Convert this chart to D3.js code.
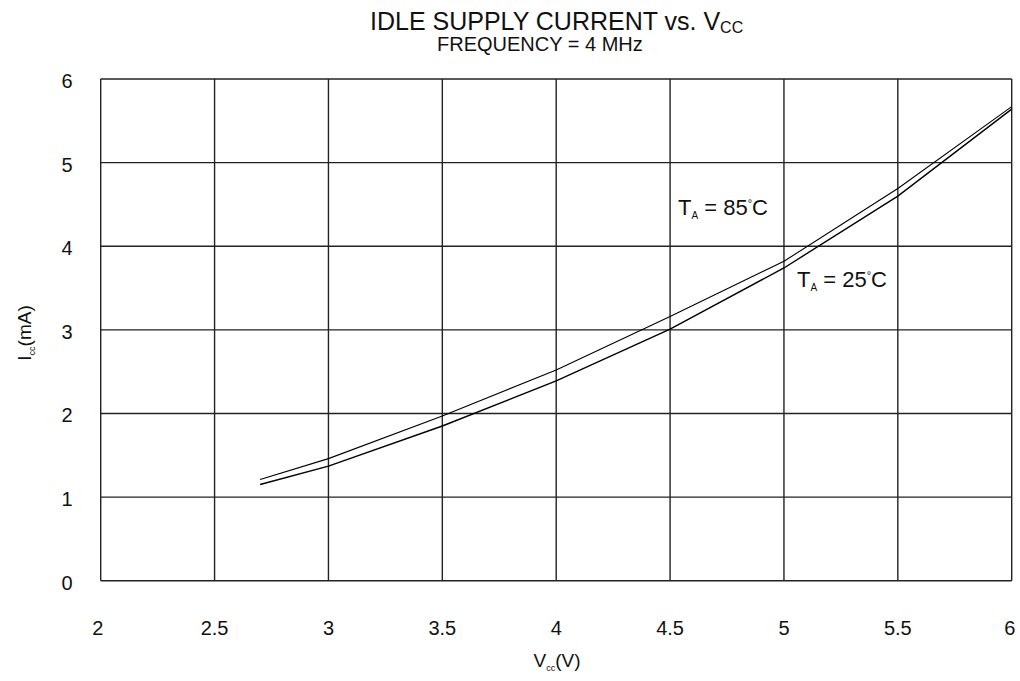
<!DOCTYPE html>
<html>
<head>
<meta charset="utf-8">
<script src="https://cdn.jsdelivr.net/npm/d3@7"></script>
<style>
  body { margin: 0; background: #fff; }
  text { font-family: "Liberation Sans", Arial, sans-serif; fill: #111; }
</style>
</head>
<body>
<svg id="chart" width="1020" height="681"></svg>
<script>
// Supply voltage (V) sample points
const vcc = [2.7, 3.0, 3.5, 4.0, 4.5, 5.0, 5.5, 6.0];
// Idle supply current (mA) at TA = 85°C
const icc85 = [1.21, 1.46, 1.97, 2.52, 3.16, 3.82, 4.69, 5.67];
// Idle supply current (mA) at TA = 25°C
const icc25 = [1.15, 1.37, 1.85, 2.39, 3.01, 3.74, 4.60, 5.64];
// Axis ticks
const xTicks = [2, 2.5, 3, 3.5, 4, 4.5, 5, 5.5, 6];
const yTicks = [0, 1, 2, 3, 4, 5, 6];

const svg = d3.select("#chart");
const x = d3.scaleLinear().domain([2, 6]).range([100.7, 1011.7]);
const y = d3.scaleLinear().domain([0, 6]).range([580.7, 79]);

// Grid
const grid = svg.append("g").attr("stroke", "#222").attr("stroke-width", 1.4);
grid.selectAll("line.v").data(xTicks).join("line")
  .attr("x1", d => x(d)).attr("x2", d => x(d))
  .attr("y1", y(0)).attr("y2", y(6));
grid.selectAll("line.h").data(yTicks).join("line")
  .attr("x1", x(2)).attr("x2", x(6))
  .attr("y1", d => y(d)).attr("y2", d => y(d));

// Tick labels
svg.append("g").selectAll("text").data(xTicks).join("text")
  .attr("x", d => x(d) - (d === 2 ? 3 : 0) - (d === 6 ? 2 : 0)).attr("y", 635)
  .attr("text-anchor", "middle").attr("font-size", 20)
  .text(d => d);
svg.append("g").selectAll("text").data(yTicks).join("text")
  .attr("x", 67).attr("y", d => y(d) + 9)
  .attr("text-anchor", "middle").attr("font-size", 20)
  .text(d => d);

// Curves
const line = d3.line().x((d, i) => x(vcc[i])).y(d => y(d));
[icc85, icc25].forEach((s, k) => {
  svg.append("path").datum(s)
    .attr("d", line).attr("fill", "none")
    .attr("stroke", "#000").attr("stroke-width", k === 0 ? 1.1 : 1.4);
});

// Curve labels
function tempLabel(px, py, t) {
  const tx = svg.append("text").attr("x", px).attr("y", py).attr("font-size", 22);
  tx.append("tspan").text("T");
  tx.append("tspan").attr("font-size", 10).attr("dy", 4).text("A");
  tx.append("tspan").attr("dy", -4).text(" = " + t);
  tx.append("tspan").attr("font-size", 11).attr("dy", -8).text("°");
  tx.append("tspan").attr("dy", 8).text("C");
}
tempLabel(678, 215, "85");
tempLabel(797, 287, "25");

// Title
const title = svg.append("text").attr("x", 370).attr("y", 30).attr("font-size", 25);
title.append("tspan").text("IDLE SUPPLY CURRENT vs. V");
title.append("tspan").attr("font-size", 16).attr("dy", 3).text("CC");
svg.append("text").attr("x", 437).attr("y", 51).attr("font-size", 20)
  .text("FREQUENCY = 4 MHz");

// Axis titles
const xl = svg.append("text").attr("x", 557).attr("y", 667)
  .attr("text-anchor", "middle").attr("font-size", 19);
xl.append("tspan").text("V");
xl.append("tspan").attr("font-size", 9).attr("dy", 4).text("cc");
xl.append("tspan").attr("dy", -4).text("(V)");

const yl = svg.append("text")
  .attr("transform", "translate(31,333) rotate(-90)")
  .attr("text-anchor", "middle").attr("font-size", 19);
yl.append("tspan").text("I");
yl.append("tspan").attr("font-size", 9).attr("dy", 4).text("cc");
yl.append("tspan").attr("dy", -4).text("(mA)");
</script>
</body>
</html>
